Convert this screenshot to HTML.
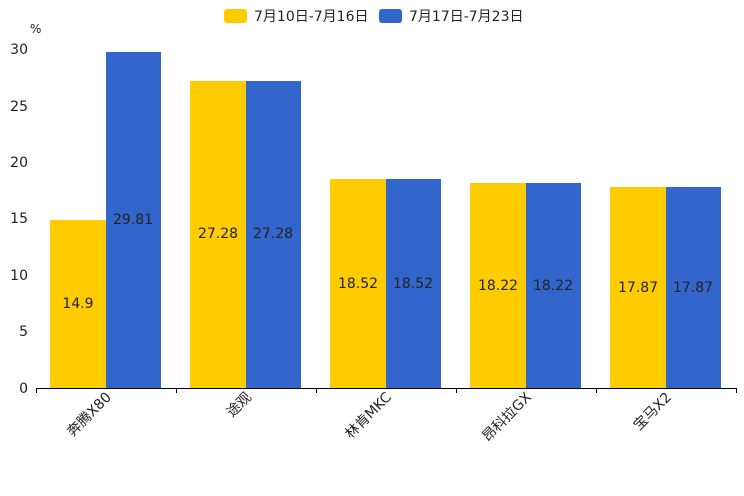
<!DOCTYPE html>
<html><head><meta charset="utf-8"><style>body{margin:0;background:#fff}svg{display:block}text{font-family:"DejaVu Sans","Noto Sans CJK SC",sans-serif;font-size:14px;fill:#222}</style></head><body>
<svg width="744" height="496" xmlns="http://www.w3.org/2000/svg">
<rect x="224" y="9" width="23" height="14" rx="3" fill="#ffcc00"/>
<text x="254" y="21">7月10日-7月16日</text>
<rect x="379" y="9" width="23" height="14" rx="3" fill="#3366cc"/>
<text x="409" y="21">7月17日-7月23日</text>
<text x="30" y="33" style="font-size:12px">%</text>
<g text-anchor="end">
<text x="28" y="393">0</text><text x="28" y="336">5</text><text x="28" y="280">10</text>
<text x="28" y="223">15</text><text x="28" y="167">20</text><text x="28" y="111">25</text><text x="28" y="54">30</text>
</g>
<g>
<rect x="50" y="220" width="56" height="168" fill="#ffcc00"/><rect x="106" y="52" width="55" height="336" fill="#3366cc"/>
<rect x="190" y="81" width="56" height="307" fill="#ffcc00"/><rect x="246" y="81" width="55" height="307" fill="#3366cc"/>
<rect x="330" y="179" width="56" height="209" fill="#ffcc00"/><rect x="386" y="179" width="55" height="209" fill="#3366cc"/>
<rect x="470" y="183" width="56" height="205" fill="#ffcc00"/><rect x="526" y="183" width="55" height="205" fill="#3366cc"/>
<rect x="610" y="187" width="56" height="201" fill="#ffcc00"/><rect x="666" y="187" width="55" height="201" fill="#3366cc"/>
</g>
<g text-anchor="middle">
<text x="78" y="308">14.9</text><text x="133" y="224">29.81</text>
<text x="218" y="238">27.28</text><text x="273" y="238">27.28</text>
<text x="358" y="288">18.52</text><text x="413" y="288">18.52</text>
<text x="498" y="290">18.22</text><text x="553" y="290">18.22</text>
<text x="638" y="292">17.87</text><text x="693" y="292">17.87</text>
</g>
<line x1="36" y1="388.5" x2="736" y2="388.5" stroke="#000"/>
<g stroke="#000"><line x1="36.5" y1="388" x2="36.5" y2="393"/><line x1="176.5" y1="388" x2="176.5" y2="393"/><line x1="316.5" y1="388" x2="316.5" y2="393"/><line x1="456.5" y1="388" x2="456.5" y2="393"/><line x1="596.5" y1="388" x2="596.5" y2="393"/><line x1="736.5" y1="388" x2="736.5" y2="393"/></g>
<g text-anchor="end">
<text transform="translate(112,398) rotate(-45)">奔腾X80</text>
<text transform="translate(252,398) rotate(-45)">途观</text>
<text transform="translate(392,398) rotate(-45)">林肯MKC</text>
<text transform="translate(532,398) rotate(-45)">昂科拉GX</text>
<text transform="translate(672,398) rotate(-45)">宝马X2</text>
</g>
</svg>
</body></html>
